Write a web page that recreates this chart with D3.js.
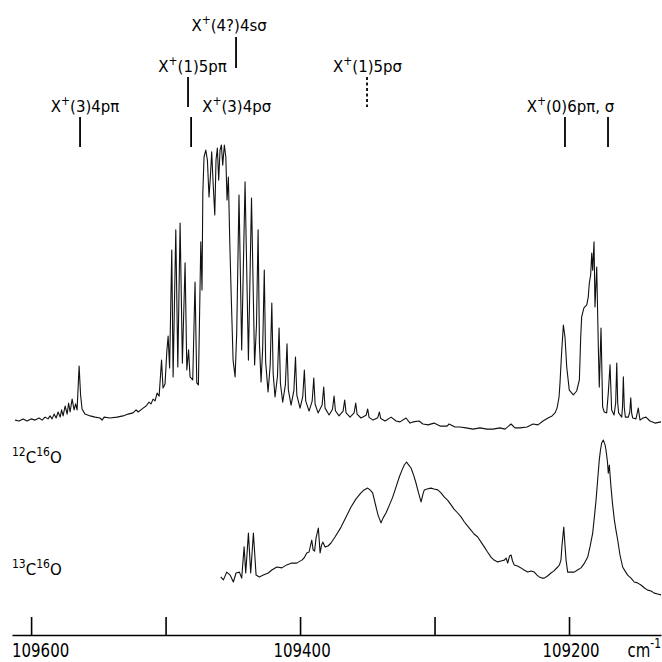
<!DOCTYPE html>
<html>
<head>
<meta charset="utf-8">
<script src="https://cdn.jsdelivr.net/npm/d3@7"></script>
<style>
    body { margin: 0; background: #fff; }
</style>
</head>
<body>
<script>
// view extent in wavenumbers (cm-1), left edge to right edge
const wnStart = 109614.2;
const wnEnd = 109131.6;

const tickValues = [109600, 109500, 109400, 109300, 109200];
const tickLabels = ["109600", "", "109400", "", "109200"];
const unitLabel = ["cm", "-1"];

const isotopeNames = [["12", "C", "16", "O"], ["13", "C", "16", "O"]];

const assignmentLabels = ["X+(3)4pπ", "X+(1)5pπ", "X+(4?)4sσ", "X+(3)4pσ", "X+(1)5pσ", "X+(0)6pπ, σ"];
const assignmentPositions = [[109563.6], [109483.3], [109447.6], [109481.0], [109350.2], [109203.0, 109171.0]];
const assignmentTentative = [false, false, false, false, true, false];

// 12C16O trace: [wavenumber, intensity (arb.)]
const spectrum12 = [
    [109611.9, 3.3], [109608.9, 3.0], [109606.0, 3.7], [109603.0, 3.0], [109600.0, 3.7], [109597.0, 3.3],
    [109594.1, 4.0], [109591.8, 3.3], [109589.6, 4.3], [109587.4, 3.7], [109585.9, 4.7], [109584.4, 3.7],
    [109582.9, 5.3], [109581.4, 4.0], [109579.9, 6.0], [109578.4, 4.3], [109577.3, 6.7], [109576.2, 4.7],
    [109574.7, 8.0], [109573.2, 5.3], [109572.1, 9.0], [109571.0, 6.0], [109569.5, 10.3], [109568.0, 6.7],
    [109566.9, 8.7], [109565.8, 6.7], [109564.3, 21.3], [109563.2, 11.7], [109562.1, 7.0], [109559.9, 5.3],
    [109556.1, 4.7], [109552.4, 4.3], [109548.7, 4.0], [109547.2, 3.3], [109545.7, 4.3], [109541.3, 4.0],
    [109536.1, 4.3], [109531.6, 4.7], [109527.9, 5.3], [109524.2, 5.7], [109521.9, 6.7], [109520.4, 6.0],
    [109516.7, 7.3], [109514.5, 8.0], [109512.3, 9.3], [109510.8, 8.7], [109509.3, 10.3], [109507.8, 9.7],
    [109506.3, 12.3], [109504.8, 11.3], [109503.0, 23.3], [109501.9, 14.0], [109500.4, 15.3], [109499.1, 26.0],
    [109498.1, 31.3], [109497.0, 20.7], [109495.4, 60.0], [109494.4, 17.7], [109492.4, 66.7], [109490.9, 21.0],
    [109489.2, 69.0], [109487.5, 22.3], [109485.5, 55.7], [109484.2, 20.0], [109482.9, 26.7], [109481.8, 17.7],
    [109479.8, 16.7], [109478.1, 49.3], [109476.8, 15.7], [109475.6, 15.0], [109473.8, 62.7], [109472.9, 46.7],
    [109472.3, 79.0], [109471.4, 91.0], [109470.1, 93.3], [109468.9, 90.0], [109467.7, 77.7], [109466.7, 84.3],
    [109465.7, 92.7], [109464.5, 81.0], [109463.4, 71.7], [109462.5, 90.0], [109461.5, 94.0], [109460.5, 83.3],
    [109459.5, 93.3], [109458.5, 95.0], [109457.5, 88.3], [109456.3, 95.0], [109455.2, 91.0], [109454.3, 76.7],
    [109453.3, 84.3], [109452.3, 63.3], [109451.1, 43.3], [109449.8, 23.3], [109448.3, 17.7], [109447.1, 32.3],
    [109445.4, 78.3], [109443.4, 26.7], [109440.9, 82.7], [109438.4, 23.3], [109436.1, 77.3], [109433.8, 21.7],
    [109432.4, 35.0], [109431.2, 66.7], [109430.2, 28.7], [109429.0, 16.0],
    [109427.8, 27.2], [109426.6, 53.3], [109425.6, 22.8], [109423.8, 12.7],
    [109422.2, 21.6], [109421.0, 42.3], [109420.0, 18.8], [109418.6, 11.0],
    [109416.8, 17.9], [109415.6, 34.0], [109414.6, 15.5], [109412.9, 9.3],
    [109410.9, 15.1], [109409.7, 28.7], [109408.7, 13.4], [109406.7, 8.3],
    [109404.6, 13.1], [109403.4, 24.3], [109402.4, 11.6], [109400.0, 7.3],
    [109398.0, 11.1], [109396.8, 20.0], [109395.8, 9.7], [109393.3, 6.3],
    [109391.0, 9.6], [109389.8, 17.3], [109388.8, 8.6], [109386.6, 5.7],
    [109383.6, 8.3], [109382.4, 14.3], [109381.4, 7.3], [109378.4, 5.0],
    [109375.9, 6.9], [109374.7, 11.3], [109373.7, 6.4], [109371.0, 4.7],
    [109368.0, 6.3], [109366.8, 10.0], [109365.8, 5.7], [109362.8, 4.3],
    [109359.8, 5.7], [109358.6, 9.0], [109357.6, 5.3], [109354.7, 4.0],
    [109350.9, 4.9], [109349.7, 7.0], [109348.7, 4.2], [109345.7, 3.3],
    [109342.2, 4.1], [109341.0, 6.0], [109340.0, 3.8], [109336.8, 3.0],
    [109332.3, 4.3], [109328.6, 3.0],
    [109325.7, 2.7], [109321.2, 4.0], [109318.2, 2.3], [109316.0, 2.7], [109311.5, 3.0], [109308.6, 2.0],
    [109304.8, 1.7], [109300.4, 2.3], [109295.9, 1.3], [109290.7, 1.3], [109289.2, 2.0], [109284.8, 1.0],
    [109281.0, 1.0], [109276.6, 0.7], [109271.4, 0.3], [109266.2, 0.7], [109261.0, 0.3], [109256.5, 0.3],
    [109251.3, 0.7], [109247.6, 0.3], [109243.1, 2.0], [109240.2, 0.7], [109236.4, 0.7], [109231.2, 1.0],
    [109226.8, 2.0], [109223.1, 1.7], [109219.3, 3.0], [109215.6, 4.0], [109212.6, 4.7], [109210.4, 5.7],
    [109208.9, 7.3], [109207.4, 11.0], [109206.7, 15.7], [109205.6, 25.0], [109204.2, 35.0], [109203.0, 31.0],
    [109201.7, 21.0], [109199.8, 13.3], [109196.8, 11.7], [109194.3, 13.0], [109192.3, 16.7], [109191.3, 31.0],
    [109190.6, 37.7], [109188.9, 40.7], [109186.8, 41.7], [109185.7, 44.3], [109184.9, 49.0], [109183.9, 51.7],
    [109183.1, 59.0], [109182.4, 53.3], [109181.4, 62.7], [109180.7, 41.0], [109179.4, 54.3], [109178.2, 27.7],
    [109177.5, 14.3], [109176.2, 34.0], [109175.0, 7.7], [109173.8, 6.0], [109172.0, 5.7], [109170.8, 12.3],
    [109169.5, 21.7], [109168.3, 6.7], [109166.5, 5.0], [109165.3, 9.0], [109164.5, 22.3], [109163.8, 9.0],
    [109163.1, 5.7], [109160.8, 4.3], [109160.2, 8.0], [109159.6, 17.7], [109158.9, 7.5], [109158.1, 4.3],
    [109155.9, 4.3], [109154.8, 6.0], [109154.1, 10.7], [109153.4, 5.5], [109152.6, 4.0], [109150.2, 3.7],
    [109148.5, 7.3], [109147.2, 3.3], [109145.0, 4.0], [109142.8, 4.3], [109139.8, 3.0], [109136.1, 2.3],
    [109131.6, 2.7]
];

// 13C16O trace: [wavenumber, intensity (arb.)]
const spectrum13 = [
    [109459.0, 7.7], [109457.0, 6.7], [109454.5, 9.3], [109452.0, 8.3], [109449.6, 6.0], [109447.6, 9.0],
    [109445.1, 9.3], [109443.4, 7.3], [109441.6, 17.7], [109440.4, 9.0], [109438.4, 22.3], [109436.7, 9.0],
    [109434.7, 22.3], [109432.7, 8.3], [109430.3, 7.7], [109427.3, 8.3], [109423.6, 9.0], [109421.0, 10.0],
    [109417.3, 11.0], [109413.6, 10.7], [109409.9, 11.7], [109406.2, 12.3], [109402.5, 12.3], [109398.7, 13.3],
    [109397.0, 14.0], [109395.0, 15.7], [109393.3, 16.0], [109391.3, 20.0], [109390.3, 16.7], [109389.2, 16.3],
    [109388.1, 20.7], [109386.4, 24.0], [109385.1, 15.7], [109384.0, 18.3], [109383.1, 19.3], [109381.4, 17.7],
    [109379.2, 18.0], [109377.0, 19.0], [109374.0, 21.0], [109369.5, 24.3], [109365.8, 27.7], [109362.1, 31.0],
    [109358.4, 33.7], [109354.7, 35.7], [109352.4, 36.7], [109349.7, 37.3], [109348.0, 36.7], [109346.0, 35.7],
    [109343.5, 31.0], [109342.0, 28.3], [109339.8, 25.7], [109338.3, 27.3], [109336.1, 29.0], [109333.5, 31.7],
    [109331.1, 34.3], [109328.6, 37.7], [109326.2, 41.0], [109324.2, 43.3], [109322.5, 45.0], [109320.8, 46.0],
    [109319.7, 45.3], [109317.5, 44.0], [109315.6, 41.7], [109313.8, 39.0], [109311.9, 35.7], [109310.0, 32.7],
    [109308.6, 35.3], [109307.6, 36.7], [109305.6, 37.0], [109302.6, 37.3], [109300.4, 37.0], [109297.6, 36.7],
    [109295.2, 35.7], [109292.7, 34.3], [109290.3, 33.3], [109287.7, 31.7], [109285.5, 30.3], [109282.8, 29.0],
    [109280.3, 27.7], [109277.8, 26.0], [109275.5, 24.7], [109272.9, 23.3], [109270.6, 22.0], [109267.9, 21.0],
    [109265.4, 19.3], [109263.0, 17.7], [109260.6, 16.0], [109258.0, 14.3], [109255.8, 13.3], [109253.0, 12.7],
    [109250.6, 13.0], [109248.1, 13.3], [109246.8, 14.0], [109245.6, 12.3], [109244.2, 14.7], [109243.1, 15.0],
    [109242.0, 13.0], [109240.7, 11.7], [109238.3, 11.3], [109235.7, 10.7], [109233.5, 10.0], [109230.7, 9.3],
    [109228.3, 9.7], [109225.8, 9.3], [109223.8, 8.3], [109222.1, 7.7], [109220.1, 7.3], [109218.4, 7.3],
    [109216.0, 8.0], [109213.4, 9.0], [109211.2, 9.7], [109208.4, 11.0], [109207.1, 11.7], [109206.0, 13.3],
    [109205.2, 18.3], [109203.9, 24.3], [109203.0, 18.3], [109202.2, 13.3], [109201.0, 9.3], [109198.5, 9.3],
    [109196.1, 9.3], [109193.7, 10.0], [109191.1, 10.7], [109188.5, 12.3], [109186.1, 14.3], [109184.4, 17.7],
    [109182.4, 22.3], [109181.0, 28.3], [109179.9, 33.3], [109178.7, 40.0], [109177.5, 46.7], [109176.6, 50.0],
    [109175.7, 52.3], [109174.5, 53.3], [109173.2, 51.7], [109172.5, 50.0], [109171.4, 46.0], [109170.8, 42.3],
    [109170.0, 45.0], [109169.5, 41.7], [109168.8, 37.7], [109167.7, 32.3], [109166.3, 26.7], [109165.1, 23.3],
    [109163.8, 20.0], [109162.1, 15.0], [109160.1, 11.0], [109158.4, 9.7], [109156.4, 8.3], [109153.9, 7.3],
    [109151.5, 6.0], [109149.1, 5.7], [109146.5, 5.0], [109143.9, 4.0], [109141.5, 3.3], [109139.0, 3.0],
    [109136.6, 2.3], [109134.2, 2.0], [109131.6, 1.7]
];

const FONT = "'DejaVu Sans', sans-serif";
const W = 662, H = 662;
const AXIS_Y = 635;

class SpectrumChart {
    #svg;
    #x;

    constructor() {
        this.#svg = d3.select("body").append("svg")
            .attr("width", W)
            .attr("height", H)
            .style("background-color", "#fff");

        this.#x = d3.scaleLinear().domain([wnStart, wnEnd]).range([12, 661]);
    }

    draw() {
        this.#drawTrace(spectrum12, d3.scaleLinear().domain([0, 100]).range([430, 130]));
        this.#drawTrace(spectrum13, d3.scaleLinear().domain([0, 100]).range([600, 300]));
        this.#drawIsotopeLabels();
        this.#drawAssignments();
        this.#drawAxis();
    }

    // text with raised parts, stretched vertically a bit like the plotter font
    #richText(x, y, parts, size, anchor, stretch) {
        let text = this.#svg.append("text")
            .attr("transform", "translate(" + x + "," + y + ") scale(1," + stretch + ")")
            .attr("text-anchor", anchor)
            .attr("font-family", FONT)
            .attr("font-size", size)
            .attr("fill", "#000");

        let shift = 0;
        parts.forEach(p => {
            let target = p.sup ? -size * 0.45 : 0;
            text.append("tspan")
                .attr("dy", target - shift)
                .attr("font-size", p.sup ? size * 0.72 : size)
                .text(p.t);
            shift = target;
        });
        return text;
    }

    #drawTrace(data, y) {
        let x = this.#x;
        this.#svg.append("path")
            .datum(data)
            .attr("fill", "none")
            .attr("stroke", "#111")
            .attr("stroke-width", 1.1)
            .attr("stroke-linejoin", "round")
            .attr("d", d3.line()
                .x(d => x(d[0]))
                .y(d => y(d[1])));
    }

    #drawIsotopeLabels() {
        let baselines = [463, 575];
        isotopeNames.forEach((name, i) => {
            this.#richText(12, baselines[i], [
                {t: name[0], sup: true}, {t: name[1]}, {t: name[2], sup: true}, {t: name[3]}
            ], 15, "start", 1.1);
        });
    }

    #drawAssignments() {
        let x = this.#x;
        // tiers: text baseline and marker span
        let tiers = [
            {text: 31, top: 37, bottom: 68},
            {text: 72, top: 77, bottom: 107},
            {text: 112, top: 117, bottom: 147}
        ];
        let tierOf = [2, 1, 0, 2, 1, 2];
        let anchorOf = ["middle", "middle", "middle", "start", "middle", "middle"];
        let dxOf = [5, 4.5, -7, 11, 0.5, 5.5];

        assignmentLabels.forEach((label, i) => {
            let tier = tiers[tierOf[i]];
            let split = label.split("+");

            assignmentPositions[i].forEach(wn => {
                this.#svg.append("line")
                    .attr("x1", x(wn)).attr("x2", x(wn))
                    .attr("y1", tier.top).attr("y2", tier.bottom)
                    .attr("stroke", "#000")
                    .attr("stroke-width", 1.8)
                    .attr("stroke-dasharray", assignmentTentative[i] ? "3,2.5" : null);
            });

            this.#richText(x(assignmentPositions[i][0]) + dxOf[i], tier.text,
                [{t: split[0]}, {t: "+", sup: true}, {t: split[1]}], 15, anchorOf[i], 1.1);
        });
    }

    #drawAxis() {
        let x = this.#x;
        let axis = d3.axisBottom(x)
            .tickValues(tickValues)
            .tickSize(-18)
            .tickSizeOuter(0)
            .tickFormat("");

        this.#svg.append("g")
            .attr("transform", "translate(0," + AXIS_Y + ")")
            .call(axis)
            .call(g => g.selectAll("line, path").attr("stroke", "#000").attr("stroke-width", 1.6));

        tickValues.forEach((v, i) => {
            if (tickLabels[i] === "") return;
            let first = i === 0;
            this.#richText(first ? 12 : x(v) + 2, 657, [{t: tickLabels[i]}], 15, first ? "start" : "middle", 1.3);
        });

        this.#richText(661, 657, [{t: unitLabel[0]}, {t: unitLabel[1], sup: true}], 15, "end", 1.3);
    }
}

const chart = new SpectrumChart();
chart.draw();
</script>
</body>
</html>
